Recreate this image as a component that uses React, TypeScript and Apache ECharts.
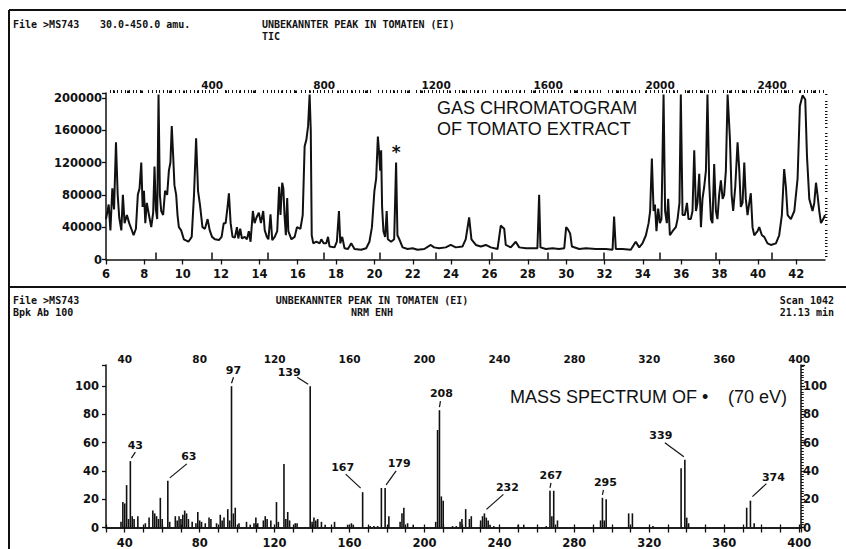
import React, { useEffect, useRef } from 'react';
import * as echarts from 'echarts';

// Total ion current (time in min, abundance)
const ticEarly: [number, number][] = [
  [6.0, 50000], [6.14, 68000], [6.23, 36000], [6.33, 88000], [6.42, 62000], [6.52, 145000], [6.61, 80000],
  [6.69, 52000], [6.8, 36000], [6.88, 80000], [6.97, 45000], [7.09, 55000], [7.21, 45000], [7.32, 38000],
  [7.44, 30000], [7.56, 38000], [7.66, 80000], [7.75, 88000], [7.84, 120000], [7.91, 65000], [7.98, 85000],
  [8.05, 45000], [8.13, 70000], [8.24, 55000], [8.36, 40000], [8.46, 58000], [8.53, 115000], [8.6, 62000],
  [8.67, 50000], [8.74, 204000], [8.81, 80000], [8.88, 60000], [8.98, 55000], [9.08, 85000], [9.19, 80000],
  [9.28, 110000], [9.36, 120000], [9.43, 165000], [9.5, 130000], [9.57, 92000], [9.66, 80000], [9.73, 55000],
  [9.8, 40000], [9.92, 36000], [10.06, 25000], [10.3, 22000], [10.47, 28000], [10.59, 80000], [10.7, 150000],
  [10.8, 85000], [10.9, 68000], [11.03, 40000], [11.16, 38000], [11.3, 50000], [11.41, 36000], [11.53, 28000],
  [11.68, 25000], [11.89, 24000], [12.03, 28000], [12.14, 45000], [12.24, 45000], [12.34, 65000], [12.41, 82000],
  [12.5, 45000], [12.6, 28000], [12.72, 27000], [12.83, 40000], [12.9, 26000], [13.0, 38000], [13.09, 26000],
  [13.24, 28000], [13.35, 25000], [13.45, 35000], [13.54, 22000], [13.66, 60000], [13.75, 45000], [13.85, 52000],
  [13.97, 58000], [14.08, 45000], [14.2, 60000], [14.28, 36000], [14.39, 28000], [14.47, 25000], [14.58, 56000],
  [14.67, 24000], [14.8, 28000], [14.93, 35000], [15.03, 90000], [15.1, 55000], [15.19, 95000], [15.25, 88000],
  [15.31, 55000], [15.38, 30000], [15.45, 76000], [15.51, 35000], [15.67, 25000], [15.84, 28000], [15.96, 40000],
];

const ticMiddle: [number, number][] = [
  [16.14, 38000], [16.26, 55000], [16.36, 140000], [16.45, 148000], [16.54, 165000], [16.62, 204000],
  [16.68, 160000], [16.73, 30000], [16.81, 20000], [16.97, 22000], [17.14, 20000], [17.23, 25000],
  [17.35, 20000], [17.49, 20000], [17.58, 28000], [17.66, 16000], [17.92, 15000], [18.04, 22000],
  [18.15, 60000], [18.22, 20000], [18.32, 28000], [18.44, 14000], [18.62, 13000], [18.79, 20000],
  [18.96, 13000], [19.31, 12000], [19.57, 14000], [19.74, 22000], [19.87, 40000], [20.0, 85000],
  [20.09, 100000], [20.18, 152000], [20.25, 130000], [20.3, 110000], [20.35, 135000], [20.4, 65000],
  [20.47, 35000], [20.56, 28000], [20.64, 60000], [20.7, 25000], [20.87, 22000], [21.03, 25000],
  [21.13, 120000], [21.2, 30000], [21.3, 25000], [21.47, 15000], [21.73, 13000], [21.99, 14000],
  [22.25, 12000], [22.6, 13000], [22.94, 18000], [23.11, 15000], [23.37, 14000], [23.72, 15000],
  [23.98, 18000], [24.24, 15000], [24.59, 16000], [24.76, 25000], [24.94, 52000], [25.06, 25000],
  [25.29, 18000], [25.55, 16000], [25.81, 18000], [26.07, 15000], [26.42, 13000], [26.59, 42000],
  [26.68, 40000], [26.77, 38000], [26.85, 18000], [27.11, 15000], [27.37, 22000], [27.55, 15000],
  [27.9, 14000], [28.24, 14000], [28.5, 14000], [28.59, 80000], [28.66, 15000], [28.94, 13000],
  [29.29, 14000], [29.63, 13000], [29.9, 14000], [30.0, 40000], [30.1, 37000], [30.21, 32000],
  [30.3, 16000], [30.68, 13000], [31.03, 14000], [31.55, 13000], [32.07, 13000], [32.42, 12000],
  [32.5, 53000], [32.59, 13000], [32.94, 13000], [33.37, 12000], [33.63, 22000], [33.81, 15000],
  [33.98, 20000],
];

const ticLate: [number, number][] = [
  [34.16, 30000], [34.3, 45000], [34.38, 60000], [34.47, 125000], [34.56, 60000], [34.63, 68000],
  [34.71, 35000], [34.8, 63000], [34.89, 45000], [34.97, 50000], [35.08, 204000], [35.16, 60000],
  [35.25, 45000], [35.32, 75000], [35.41, 30000], [35.55, 35000], [35.72, 40000], [35.81, 50000],
  [35.91, 70000], [35.98, 204000], [36.07, 55000], [36.19, 55000], [36.3, 70000], [36.38, 50000],
  [36.5, 50000], [36.59, 60000], [36.68, 135000], [36.77, 60000], [36.85, 70000], [36.94, 106000],
  [37.03, 40000], [37.11, 75000], [37.2, 90000], [37.29, 110000], [37.37, 204000], [37.46, 95000],
  [37.55, 50000], [37.63, 45000], [37.72, 118000], [37.81, 60000], [37.89, 50000], [37.98, 80000],
  [38.07, 98000], [38.16, 75000], [38.24, 80000], [38.33, 110000], [38.42, 204000], [38.54, 150000],
  [38.63, 80000], [38.71, 60000], [38.82, 90000], [38.94, 145000], [39.03, 110000], [39.11, 65000],
  [39.2, 70000], [39.29, 120000], [39.37, 75000], [39.46, 55000], [39.55, 70000], [39.63, 82000],
  [39.72, 40000], [39.81, 30000], [39.98, 35000], [40.07, 40000], [40.21, 30000], [40.33, 28000],
  [40.5, 20000], [40.68, 18000], [40.94, 20000], [41.11, 30000], [41.25, 55000], [41.37, 112000],
  [41.46, 90000], [41.55, 55000], [41.72, 50000], [41.9, 60000], [42.07, 100000], [42.19, 190000],
  [42.33, 203000], [42.47, 198000], [42.56, 128000], [42.68, 75000], [42.85, 60000], [42.94, 70000],
  [43.03, 95000], [43.11, 80000], [43.2, 60000], [43.29, 45000], [43.41, 50000], [43.5, 55000],
];

// Mass spectrum of scan 1042 (m/z, relative abundance %)
const spectrumLow: [number, number][] = [
  [38, 4], [39, 18], [40, 17], [41, 30], [42, 6], [43, 47], [44, 8], [45, 6], [47, 8], [51, 3], [53, 7],
  [55, 12], [56, 10], [57, 8], [58, 6], [59, 21], [60, 6], [63, 33], [64, 4], [67, 8], [68, 5], [69, 8],
  [70, 6], [71, 9], [72, 12], [73, 10], [74, 6], [76, 4], [78, 3], [79, 11], [80, 5], [81, 4], [83, 3],
  [85, 7], [86, 6], [89, 3], [91, 9], [92, 5], [93, 7], [95, 13], [96, 5], [97, 100], [98, 10], [99, 14],
  [101, 3], [105, 4], [107, 2], [109, 3], [110, 7], [111, 3], [114, 5], [115, 8], [116, 6], [118, 5],
  [121, 18], [122, 4], [125, 45], [126, 6], [127, 11], [128, 5], [131, 3], [132, 3],
];
const spectrumMid: [number, number][] = [
  [139, 100], [140, 4], [141, 7], [142, 5], [143, 6], [145, 4], [147, 2], [152, 4], [159, 2], [161, 3],
  [162, 2], [167, 25], [171, 1], [173, 1], [175, 1], [177, 28], [179, 28], [181, 8], [187, 4], [188, 10],
  [189, 14], [191, 3], [194, 2], [206, 4], [207, 69], [208, 83], [209, 22], [210, 19], [215, 1], [217, 1],
  [219, 4], [220, 6], [222, 13], [224, 6], [225, 8], [230, 5], [231, 8], [232, 10], [233, 7], [234, 5],
  [235, 2], [237, 1],
];
const spectrumHigh: [number, number][] = [
  [250, 2], [253, 2], [265, 1], [267, 26], [268, 8], [269, 26], [271, 5], [294, 5], [295, 21], [296, 5],
  [297, 20], [309, 10], [311, 10], [322, 1], [337, 42], [339, 48], [340, 7], [341, 3], [372, 14], [374, 19],
  [376, 3],
];

const labelledPeaks = [43, 63, 97, 139, 167, 179, 208, 232, 267, 295, 339, 374];

const ticLabels = [0, 40000, 80000, 120000, 160000, 200000];
const abundanceLabels = [0, 20, 40, 60, 80, 100];
const scanLabels = [400, 800, 1200, 1600, 2000, 2400];
const massLabels = [40, 80, 120, 160, 200, 240, 280, 320, 360, 400];

// Leader line (start dx,dy -> end dx,dy) and label centre (dx,dy), relative to each peak top, in px
const LEADERS: number[][] = [
  [1, -3, 5, -9, 5, -16],
  [2, -3, 19, -17, 21, -24],
  [0, -3, 2, -9, 2, -16],
  [-2, -2, -13, -9, -21, -14],
  [-2, -4, -17, -18, -20, -25],
  [1, -3, 11, -17, 14, -24],
  [0, -3, 1, -9, 2, -17],
  [2, -4, 19, -19, 23, -26],
  [0, -3, 1, -8, 1, -15],
  [0, -3, 1, -8, 3, -15],
  [-1, -3, -20, -17, -24, -24],
  [2, -4, 16, -17, 23, -23],
];

const INK = '#111';
const AXIS_FONT = { fontFamily: 'DejaVu Sans', fontWeight: 'bold' as const, fontSize: 11.5, color: INK };
const MONO = 'bold 10px "DejaVu Sans Mono"';
const SANS = '18px "Liberation Sans"';
const plain = (v: number) => String(v);

// Tick positions from `from` to `to` in steps of `step`, optionally skipping multiples of `skip`
function stepValues(from: number, to: number, step: number, skip?: number): number[] {
  const out: number[] = [];
  const n = Math.round((to - from) / step);
  for (let i = 0; i <= n; i++) {
    const v = Math.round((from + i * step) * 1000) / 1000;
    if (skip && Math.abs(v / skip - Math.round(v / skip)) < 1e-6) continue;
    out.push(v);
  }
  return out;
}

// An axis that only draws extra (minor) ticks on top of a main axis
function tickOnlyAxis(base: Record<string, unknown>, values: number[], length: number, width = 1) {
  return {
    ...base,
    axisLine: { show: false },
    axisTick: { show: true, length, customValues: values, lineStyle: { color: INK, width } },
    axisLabel: { show: false },
    splitLine: { show: false },
  };
}

export default function App() {
  const ref = useRef<HTMLDivElement>(null);

  useEffect(() => {
    if (!ref.current) return;
    const chart = echarts.init(ref.current, undefined, { renderer: 'svg' });

    const spectrum = [...spectrumLow, ...spectrumMid, ...spectrumHigh];
    const peakData = labelledPeaks.map((m) => {
      const hit = spectrum.find((d) => d[0] === m);
      return [m, hit ? hit[1] : 0];
    });

    const tickLine = { lineStyle: { color: INK, width: 1.3 } };
    const axisLine = { show: true, lineStyle: { color: INK, width: 1.5 } };

    const timeBase = { gridIndex: 0, type: 'value', min: 6, max: 43.5 };
    const scanBase = { gridIndex: 0, type: 'value', position: 'top', min: 21, max: 2589 };
    const massBase = { gridIndex: 1, type: 'value', min: 30, max: 401 };
    const ticBase = { gridIndex: 0, type: 'value', min: 0, max: 206000 };
    const abLeft = { gridIndex: 1, type: 'value', min: 0, max: 115 };
    const abRight = { gridIndex: 1, type: 'value', position: 'right', min: 0, max: 115 };

    chart.setOption({
      animation: false,
      backgroundColor: '#fff',
      grid: [
        { left: 106, top: 93, width: 719, height: 166.5 },
        { left: 106, top: 365, width: 695, height: 162.5 },
      ],
      xAxis: [
        {
          ...timeBase, interval: 2,
          axisLine,
          axisTick: { show: true, length: 5, ...tickLine },
          axisLabel: { ...AXIS_FONT, margin: 8, showMaxLabel: false },
          splitLine: { show: false },
        },
        {
          ...scanBase,
          axisLine: { show: false },
          axisTick: { show: true, length: 7, customValues: stepValues(200, 2400, 200), lineStyle: { color: INK, width: 1.5 } },
          axisLabel: { ...AXIS_FONT, fontSize: 10.5, margin: 3, customValues: scanLabels, formatter: plain },
          splitLine: { show: false },
        },
        tickOnlyAxis(scanBase, stepValues(50, 2550, 50, 200), 2.5, 2),
        {
          ...massBase, interval: 10,
          axisLine,
          axisTick: { show: true, length: 5, ...tickLine },
          axisLabel: { ...AXIS_FONT, margin: 9, customValues: massLabels },
          splitLine: { show: false },
        },
        {
          ...massBase, position: 'top', interval: 10,
          axisLine,
          axisTick: { show: true, length: 3, ...tickLine },
          axisLabel: { ...AXIS_FONT, fontSize: 10.5, margin: 1, customValues: massLabels },
          splitLine: { show: false },
        },
        tickOnlyAxis(timeBase, stepValues(6.2, 43.4, 0.2, 2), 3),
      ],
      yAxis: [
        {
          ...ticBase, interval: 40000,
          axisLine,
          axisTick: { show: true, length: 4, ...tickLine },
          axisLabel: { ...AXIS_FONT, margin: 4, customValues: ticLabels, formatter: plain },
          splitLine: { show: false },
        },
        {
          ...abLeft, interval: 20,
          axisLine,
          axisTick: { show: true, length: 4, ...tickLine },
          axisLabel: { ...AXIS_FONT, margin: 7, customValues: abundanceLabels },
          splitLine: { show: false },
        },
        {
          ...abRight, interval: 20,
          axisLine,
          axisTick: { show: true, length: 4, ...tickLine },
          axisLabel: { ...AXIS_FONT, margin: 2, customValues: abundanceLabels },
          splitLine: { show: false },
        },
        tickOnlyAxis(ticBase, stepValues(4000, 204000, 4000, 40000), 2.5),
        tickOnlyAxis(abLeft, stepValues(2, 114, 2, 20), 2.5),
        tickOnlyAxis(abRight, stepValues(2, 114, 2, 20), 2.5),
      ],
      series: [
        {
          type: 'line', xAxisIndex: 0, yAxisIndex: 0,
          data: [...ticEarly, ...ticMiddle, ...ticLate],
          symbol: 'none', lineStyle: { color: INK, width: 2 },
          markPoint: {
            symbol: 'circle', symbolSize: 1, itemStyle: { color: 'transparent' },
            label: { show: true, formatter: '*', fontFamily: 'DejaVu Sans', fontWeight: 'bold', fontSize: 17, color: INK },
            data: [{ coord: [21.13, 133000] }],
          },
        },
        {
          type: 'bar', xAxisIndex: 3, yAxisIndex: 1,
          data: spectrum, barWidth: 1.6,
          itemStyle: { color: INK },
        },
        {
          type: 'custom', xAxisIndex: 3, yAxisIndex: 1, clip: false, z: 5,
          data: peakData,
          renderItem: (params: any, api: any) => {
            const m = api.value(0) as number;
            const v = api.value(1) as number;
            const p = api.coord([m, v]);
            const o = LEADERS[params.dataIndex];
            return {
              type: 'group',
              children: [
                {
                  type: 'line',
                  shape: { x1: p[0] + o[0], y1: p[1] + o[1], x2: p[0] + o[2], y2: p[1] + o[3] },
                  style: { stroke: INK, lineWidth: 1.2 },
                },
                {
                  type: 'text', x: p[0] + o[4], y: p[1] + o[5],
                  style: {
                    text: String(m), fill: INK, align: 'center', verticalAlign: 'middle',
                    fontFamily: 'DejaVu Sans', fontWeight: 'bold', fontSize: 11,
                  },
                },
              ],
            };
          },
        },
      ],
      graphic: [
        { type: 'line', shape: { x1: 9, y1: 10, x2: 846, y2: 10 }, style: { stroke: INK, lineWidth: 2 } },
        { type: 'line', shape: { x1: 9, y1: 10, x2: 9, y2: 549 }, style: { stroke: INK, lineWidth: 2 } },
        { type: 'line', shape: { x1: 9, y1: 287, x2: 846, y2: 287 }, style: { stroke: INK, lineWidth: 2 } },

        { type: 'text', x: 13, y: 24, style: { text: 'File >MS743', font: MONO, fill: INK, verticalAlign: 'middle' } },
        { type: 'text', x: 100, y: 24, style: { text: '30.0-450.0 amu.', font: MONO, fill: INK, verticalAlign: 'middle' } },
        { type: 'text', x: 262, y: 24, style: { text: 'UNBEKANNTER PEAK IN TOMATEN (EI)', font: MONO, fill: INK, verticalAlign: 'middle' } },
        { type: 'text', x: 262, y: 36, style: { text: 'TIC', font: MONO, fill: INK, verticalAlign: 'middle' } },

        { type: 'text', x: 13, y: 300, style: { text: 'File >MS743', font: MONO, fill: INK, verticalAlign: 'middle' } },
        { type: 'text', x: 13, y: 312, style: { text: 'Bpk Ab 100', font: MONO, fill: INK, verticalAlign: 'middle' } },
        { type: 'text', x: 372, y: 300, style: { text: 'UNBEKANNTER PEAK IN TOMATEN (EI)', font: MONO, fill: INK, align: 'center', verticalAlign: 'middle' } },
        { type: 'text', x: 372, y: 312, style: { text: 'NRM ENH', font: MONO, fill: INK, align: 'center', verticalAlign: 'middle' } },
        { type: 'text', x: 834, y: 300, style: { text: 'Scan 1042', font: MONO, fill: INK, align: 'right', verticalAlign: 'middle' } },
        { type: 'text', x: 834, y: 312, style: { text: '21.13 min', font: MONO, fill: INK, align: 'right', verticalAlign: 'middle' } },

        { type: 'text', x: 437, y: 108, style: { text: 'GAS CHROMATOGRAM', font: SANS, fill: INK, verticalAlign: 'middle' } },
        { type: 'text', x: 437, y: 129, style: { text: 'OF TOMATO EXTRACT', font: SANS, fill: INK, verticalAlign: 'middle' } },
        { type: 'text', x: 510, y: 397, style: { text: 'MASS SPECTRUM OF \u2022', font: SANS, fill: INK, verticalAlign: 'middle' } },
        { type: 'text', x: 787, y: 397, style: { text: '(70 eV)', font: SANS, fill: INK, align: 'right', verticalAlign: 'middle' } },
      ],
    });

    return () => chart.dispose();
  }, []);

  return (
    <div
      ref={ref}
      style={{ position: 'fixed', left: 0, top: 0, width: 846, height: 549, background: '#fff' }}
    />
  );
}
